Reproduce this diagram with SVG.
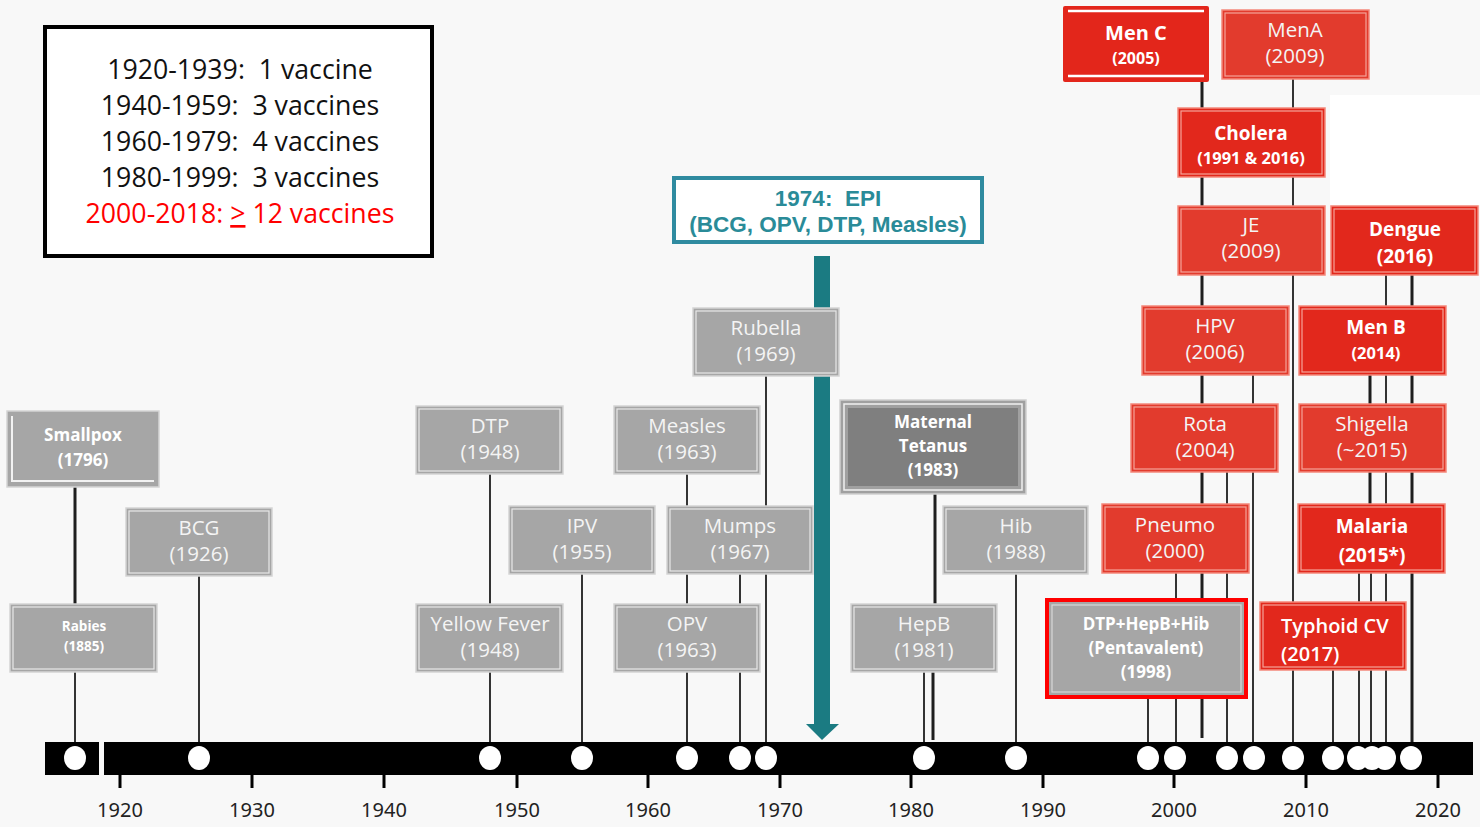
<svg xmlns="http://www.w3.org/2000/svg" width="1480" height="827" viewBox="0 0 1480 827">
<style>
.g{fill:#a6a6a6;stroke:#d4d4d4;stroke-width:1.5}
.gi{fill:none;stroke:#e8e8e8;stroke-width:1.2}
.r{fill:#e23b2d;stroke:#f3887b;stroke-width:1.5}
.rs{fill:#e2281c;stroke:#f3887b;stroke-width:1.5}
.ri{fill:none;stroke:#f6a398;stroke-width:1.2}
.t{font-family:"Open Sans","Noto Sans",sans-serif;fill:#f4f4f4;text-anchor:middle;font-size:20.5px}
.b{font-weight:700;fill:#ffffff}
.ln{stroke:#1e1e1e;stroke-width:1.8;fill:none}
.lk{stroke:#1e1e1e;stroke-width:3;fill:none}
.ax{font-family:"Noto Sans","Open Sans",sans-serif;font-size:20px;fill:#222;text-anchor:middle}
.lg{font-family:"Open Sans","Noto Sans",sans-serif;font-size:26.7px;fill:#111;text-anchor:middle;white-space:pre}
.epi{font-family:"Liberation Sans",Arial,sans-serif;font-weight:700;font-size:22.5px;fill:#2a8b98;text-anchor:middle;white-space:pre}
.dot{fill:#ffffff}
</style>
<rect x="0" y="0" width="1480" height="827" fill="#f8f8f8"/>
<rect x="1330" y="95" width="150" height="110" fill="#ffffff"/>

<g id="connectors">
<path class="lk" d="M75 483V604"/>
<path class="ln" d="M75 672V742"/>
<path class="ln" d="M199 576V742"/>
<path class="ln" d="M490 474V604M490 672V742"/>
<path class="ln" d="M582 574V742"/>
<path class="ln" d="M687 474V506M687 574V604M687 672V742"/>
<path class="ln" d="M740 574V604M740 672V742"/>
<path class="ln" d="M766 376V506M766 574V742"/>
<path class="lk" d="M935 494V604M933 672V740"/>
<path class="ln" d="M924 672V742"/>
<path class="ln" d="M1016 574V742"/>
<path class="ln" d="M1148 698V742"/>
<path class="ln" d="M1176 573V742"/>
<path class="lk" d="M1202 82V738"/>
<path class="ln" d="M1227 472V742"/>
<path class="ln" d="M1253 375V742"/>
<path class="ln" d="M1293 79V742"/>
<path class="ln" d="M1333 670V742"/>
<path class="ln" d="M1359 573V742"/>
<path class="lk" d="M1370 375V504"/>
<path class="ln" d="M1371 573V742"/>
<path class="ln" d="M1386 275V742"/>
<path class="lk" d="M1412 275V742"/>
</g>

<g id="epi-arrow">
<rect x="814" y="256" width="16" height="470" fill="#1b7b82"/>
<polygon points="806,724 839,724 822,740" fill="#1b7b82"/>
</g>

<g id="legend">
<rect x="45" y="27" width="387" height="229" fill="#ffffff" stroke="#000" stroke-width="4"/>
<text class="lg" x="240" y="79">1920-1939:  1 vaccine</text>
<text class="lg" x="240" y="115">1940-1959:  3 vaccines</text>
<text class="lg" x="240" y="151">1960-1979:  4 vaccines</text>
<text class="lg" x="240" y="187">1980-1999:  3 vaccines</text>
<text class="lg" x="240" y="223" style="fill:#ff0000">2000-2018: <tspan text-decoration="underline">&gt;</tspan> 12 vaccines</text>
</g>

<g id="epi">
<rect x="674" y="178" width="308" height="64" fill="#ffffff" stroke="#2f8ba0" stroke-width="4"/>
<text class="epi" x="828" y="206">1974:  EPI</text>
<text class="epi" x="828" y="232">(BCG, OPV, DTP, Measles)</text>
</g>

<g id="smallpox">
<rect class="g" x="7" y="411" width="152" height="76"/>
<path d="M12 416V481H154" stroke="#f2f2f2" stroke-width="2" fill="none"/>
<text class="t b" x="83" y="441" style="font-size:17px">Smallpox</text>
<text class="t b" x="83" y="466" style="font-size:17px">(1796)</text>
</g>
<g id="rabies">
<rect class="g" x="10" y="604" width="147" height="68"/><rect class="gi" x="13" y="607" width="141" height="62"/>
<text class="t b" x="84" y="631" style="font-size:13.5px">Rabies</text>
<text class="t b" x="84" y="651" style="font-size:13.5px">(1885)</text>
</g>
<g id="bcg">
<rect class="g" x="126" y="508" width="146" height="68"/><rect class="gi" x="129" y="511" width="140" height="62"/>
<text class="t" x="199" y="535">BCG</text><text class="t" x="199" y="561">(1926)</text>
</g>
<g id="dtp">
<rect class="g" x="416" y="406" width="147" height="68"/><rect class="gi" x="419" y="409" width="141" height="62"/>
<text class="t" x="490" y="433">DTP</text><text class="t" x="490" y="459">(1948)</text>
</g>
<g id="yellowfever">
<rect class="g" x="416" y="604" width="147" height="68"/><rect class="gi" x="419" y="607" width="141" height="62"/>
<text class="t" x="490" y="631">Yellow Fever</text><text class="t" x="490" y="657">(1948)</text>
</g>
<g id="ipv">
<rect class="g" x="509" y="506" width="146" height="68"/><rect class="gi" x="512" y="509" width="140" height="62"/>
<text class="t" x="582" y="533">IPV</text><text class="t" x="582" y="559">(1955)</text>
</g>
<g id="measles">
<rect class="g" x="614" y="406" width="146" height="68"/><rect class="gi" x="617" y="409" width="140" height="62"/>
<text class="t" x="687" y="433">Measles</text><text class="t" x="687" y="459">(1963)</text>
</g>
<g id="mumps">
<rect class="g" x="667" y="506" width="146" height="68"/><rect class="gi" x="670" y="509" width="140" height="62"/>
<text class="t" x="740" y="533">Mumps</text><text class="t" x="740" y="559">(1967)</text>
</g>
<g id="opv">
<rect class="g" x="614" y="604" width="146" height="68"/><rect class="gi" x="617" y="607" width="140" height="62"/>
<text class="t" x="687" y="631">OPV</text><text class="t" x="687" y="657">(1963)</text>
</g>
<g id="rubella">
<rect class="g" x="693" y="308" width="146" height="68"/><rect class="gi" x="696" y="311" width="140" height="62"/>
<text class="t" x="766" y="335">Rubella</text><text class="t" x="766" y="361">(1969)</text>
</g>
<g id="maternaltetanus">
<rect x="840" y="400" width="186" height="94" fill="#a0a0a0" stroke="#d0d0d0" stroke-width="1.5"/>
<rect x="844" y="404" width="178" height="86" fill="none" stroke="#f0f0f0" stroke-width="1.5"/>
<rect x="848" y="408" width="170" height="78" fill="#7f7f7f"/>
<text class="t b" x="933" y="428" style="font-size:17px">Maternal</text>
<text class="t b" x="933" y="452" style="font-size:17px">Tetanus</text>
<text class="t b" x="933" y="476" style="font-size:17px">(1983)</text>
</g>
<g id="hib">
<rect class="g" x="943" y="506" width="145" height="68"/><rect class="gi" x="946" y="509" width="139" height="62"/>
<text class="t" x="1016" y="533">Hib</text><text class="t" x="1016" y="559">(1988)</text>
</g>
<g id="hepb">
<rect class="g" x="851" y="604" width="146" height="68"/><rect class="gi" x="854" y="607" width="140" height="62"/>
<text class="t" x="924" y="631">HepB</text><text class="t" x="924" y="657">(1981)</text>
</g>

<g id="menc">
<rect x="1063" y="6" width="146" height="76" rx="2" fill="#e3261b"/>
<path d="M1068 11H1204M1068 76H1204" stroke="#ffffff" stroke-width="2.5"/>
<text class="t b" x="1136" y="40" style="font-size:20px">Men C</text>
<text class="t b" x="1136" y="64" style="font-size:16px">(2005)</text>
</g>
<g id="mena">
<rect class="r" x="1222" y="10" width="147" height="69"/><rect class="ri" x="1225" y="13" width="141" height="63"/>
<text class="t" x="1295" y="37">MenA</text><text class="t" x="1295" y="63">(2009)</text>
</g>
<g id="cholera">
<rect class="rs" x="1178" y="108" width="147" height="69"/><rect class="ri" x="1181" y="111" width="141" height="63"/>
<text class="t b" x="1251" y="140" style="font-size:19px">Cholera</text>
<text class="t b" x="1251" y="164" style="font-size:16.5px">(1991 &amp; 2016)</text>
</g>
<g id="je">
<rect class="r" x="1178" y="206" width="147" height="69"/><rect class="ri" x="1181" y="209" width="141" height="63"/>
<text class="t" x="1251" y="232">JE</text><text class="t" x="1251" y="258">(2009)</text>
</g>
<g id="dengue">
<rect class="rs" x="1331" y="206" width="147" height="69"/><rect class="ri" x="1334" y="209" width="141" height="63"/>
<text class="t b" x="1405" y="236" style="font-size:19px">Dengue</text>
<text class="t b" x="1405" y="263" style="font-size:19px">(2016)</text>
</g>
<g id="hpv">
<rect class="r" x="1142" y="306" width="147" height="69"/><rect class="ri" x="1145" y="309" width="141" height="63"/>
<text class="t" x="1215" y="333">HPV</text><text class="t" x="1215" y="359">(2006)</text>
</g>
<g id="menb">
<rect class="rs" x="1299" y="306" width="147" height="69"/><rect class="ri" x="1302" y="309" width="141" height="63"/>
<text class="t b" x="1376" y="334" style="font-size:19px">Men B</text>
<text class="t b" x="1376" y="359" style="font-size:16.5px">(2014)</text>
</g>
<g id="rota">
<rect class="r" x="1131" y="404" width="147" height="68"/><rect class="ri" x="1134" y="407" width="141" height="62"/>
<text class="t" x="1205" y="431">Rota</text><text class="t" x="1205" y="457">(2004)</text>
</g>
<g id="shigella">
<rect class="r" x="1299" y="404" width="147" height="68"/><rect class="ri" x="1302" y="407" width="141" height="62"/>
<text class="t" x="1372" y="431">Shigella</text><text class="t" x="1372" y="457">(~2015)</text>
</g>
<g id="pneumo">
<rect class="r" x="1102" y="504" width="147" height="69"/><rect class="ri" x="1105" y="507" width="141" height="63"/>
<text class="t" x="1175" y="532">Pneumo</text><text class="t" x="1175" y="558">(2000)</text>
</g>
<g id="malaria">
<rect class="rs" x="1298" y="504" width="147" height="69"/><rect class="ri" x="1301" y="507" width="141" height="63"/>
<text class="t b" x="1372" y="533" style="font-size:19px">Malaria</text>
<text class="t b" x="1372" y="562" style="font-size:19px">(2015*)</text>
</g>
<g id="pentavalent">
<rect x="1047" y="600" width="199" height="97" fill="#a6a6a6" stroke="#ff0000" stroke-width="4"/>
<rect x="1052" y="605" width="189" height="87" fill="none" stroke="#d8d8d8" stroke-width="1.2"/>
<text class="t b" x="1146" y="630" style="font-size:17px">DTP+HepB+Hib</text>
<text class="t b" x="1146" y="654" style="font-size:17px">(Pentavalent)</text>
<text class="t b" x="1146" y="678" style="font-size:17px">(1998)</text>
</g>
<g id="typhoidcv">
<rect class="rs" x="1260" y="602" width="146" height="68"/><rect class="ri" x="1263" y="605" width="140" height="62"/>
<text class="t" x="1281" y="633" style="text-anchor:start;fill:#fff;font-weight:600;font-size:20px">Typhoid CV</text>
<text class="t" x="1281" y="661" style="text-anchor:start;fill:#fff;font-weight:600;font-size:20px">(2017)</text>
</g>

<g id="axis">
<rect x="45" y="742" width="54" height="33" fill="#000"/>
<rect x="104" y="742" width="1369" height="33" fill="#000"/>
<path d="M120 775V788M252 775V788M384 775V788M517 775V788M648 775V788M780 775V788M911 775V788M1043 775V788M1174 775V788M1306 775V788M1438 775V788" stroke="#000" stroke-width="3"/>
<text class="ax" x="120" y="817">1920</text>
<text class="ax" x="252" y="817">1930</text>
<text class="ax" x="384" y="817">1940</text>
<text class="ax" x="517" y="817">1950</text>
<text class="ax" x="648" y="817">1960</text>
<text class="ax" x="780" y="817">1970</text>
<text class="ax" x="911" y="817">1980</text>
<text class="ax" x="1043" y="817">1990</text>
<text class="ax" x="1174" y="817">2000</text>
<text class="ax" x="1306" y="817">2010</text>
<text class="ax" x="1438" y="817">2020</text>
<g class="dot">
<ellipse cx="75" cy="758" rx="11" ry="12"/>
<ellipse cx="199" cy="758" rx="11" ry="12"/>
<ellipse cx="490" cy="758" rx="11" ry="12"/>
<ellipse cx="582" cy="758" rx="11" ry="12"/>
<ellipse cx="687" cy="758" rx="11" ry="12"/>
<ellipse cx="740" cy="758" rx="11" ry="12"/>
<ellipse cx="766" cy="758" rx="11" ry="12"/>
<ellipse cx="924" cy="758" rx="11" ry="12"/>
<ellipse cx="1016" cy="758" rx="11" ry="12"/>
<ellipse cx="1148" cy="758" rx="11" ry="12"/>
<ellipse cx="1175" cy="758" rx="11" ry="12"/>
<ellipse cx="1227" cy="758" rx="11" ry="12"/>
<ellipse cx="1254" cy="758" rx="11" ry="12"/>
<ellipse cx="1293" cy="758" rx="11" ry="12"/>
<ellipse cx="1333" cy="758" rx="11" ry="12"/>
<ellipse cx="1358" cy="758" rx="11" ry="12"/>
<ellipse cx="1372" cy="758" rx="11" ry="12"/>
<ellipse cx="1385" cy="758" rx="11" ry="12"/>
<ellipse cx="1411" cy="758" rx="11" ry="12"/>
</g>
</g>
</svg>
